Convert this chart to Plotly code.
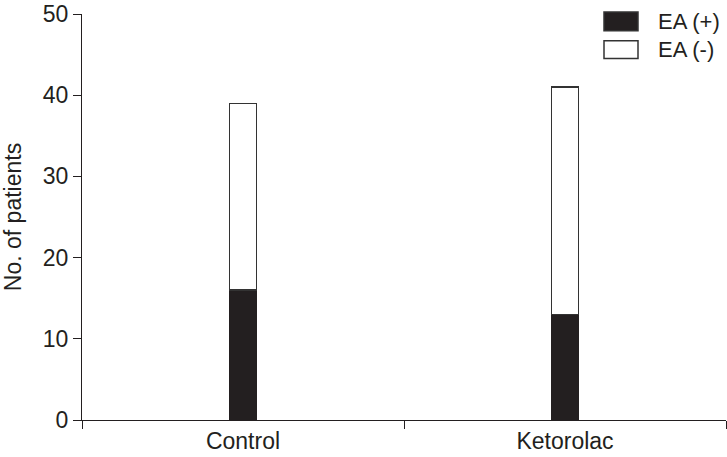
import plotly.graph_objects as go

categories = ["Control", "Ketorolac"]
ea_pos = [16, 13]
ea_neg = [23, 28]
series_names = ["EA (+)", "EA (-)"]
y_ticks = [0, 10, 20, 30, 40, 50]

dark = "#231f20"
font = dict(family="Liberation Sans, Arial, sans-serif", size=23, color=dark)
legend_font = dict(family="Liberation Sans, Arial, sans-serif", size=22, color=dark)

fig = go.Figure()
fig.add_trace(go.Bar(x=categories, y=ea_pos, name=series_names[0], width=0.084,
                     marker=dict(color=dark, line=dict(color=dark, width=1.5)),
                     showlegend=False))
fig.add_trace(go.Bar(x=categories, y=ea_neg, name=series_names[1], width=0.084,
                     marker=dict(color="white", line=dict(color="#333333", width=1.5)),
                     showlegend=False))

# legend drawn manually to match the reference's large swatches
L, W, T, H = 82, 644, 10, 410
legend_rows = [(series_names[0], dark, 8, 27), (series_names[1], "white", 37, 55)]
for name, col, top, bot in legend_rows:
    fig.add_shape(type="rect", xref="paper", yref="paper",
                  x0=(604 - L) / W, x1=(638 - L) / W,
                  y0=1 - (bot - T) / H, y1=1 - (top - T) / H,
                  fillcolor=col, line=dict(color="#333333", width=1.5))
    fig.add_annotation(xref="paper", yref="paper", x=(656 - L) / W,
                       y=1 - ((top + bot) / 2 - T) / H,
                       text=name, showarrow=False, xanchor="left", yanchor="middle",
                       font=legend_font)

fig.update_layout(
    width=727, height=457,
    margin=dict(l=82, r=1, t=10, b=37),
    paper_bgcolor="white", plot_bgcolor="white",
    barmode="stack",
    font=font,
    showlegend=False,
)
fig.update_xaxes(type="category", range=[-0.5, 1.5], tickson="boundaries",
                 ticks="outside", ticklen=8, tickwidth=1.2, tickcolor=dark,
                 showline=True, linecolor=dark, linewidth=1.2, showgrid=False,
                 tickfont=font, zeroline=False)
fig.update_yaxes(range=[0, 50], tickvals=y_ticks, ticks="outside", ticklen=8,
                 tickwidth=1.2, tickcolor=dark, showline=True, linecolor=dark,
                 linewidth=1.2, showgrid=False, zeroline=False, tickfont=font,
                 ticklabeloverflow="allow",
                 title=dict(text="No. of patients", font=font, standoff=18))

fig.write_html("out.html", config={"displayModeBar": False},
               post_script="document.body.style.margin='0';")
